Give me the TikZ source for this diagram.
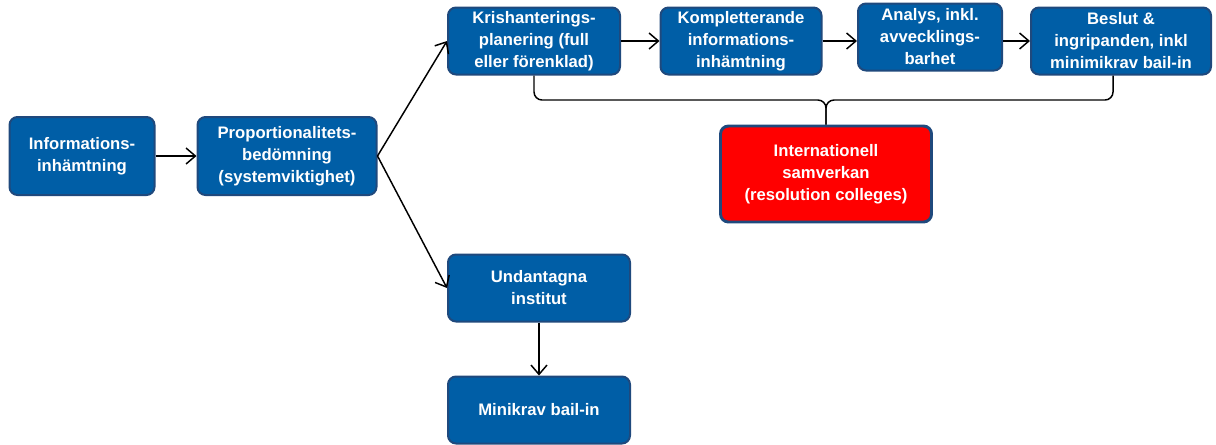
\documentclass[tikz,border=0pt]{standalone}
\usepackage{fontspec}
\setmainfont{Liberation Sans}
\usetikzlibrary{arrows.meta}
\definecolor{boxblue}{RGB}{0,94,166}
\definecolor{edgeblue}{RGB}{31,73,125}
\definecolor{boxred}{RGB}{255,0,0}
\tikzset{
  stage/.style={draw=edgeblue,fill=boxblue,line width=1.5pt,rounded corners=6pt,
    text=white,align=center,inner sep=0pt,
    font=\bfseries\fontsize{12.5}{16.5}\selectfont},
  sz/.style 2 args={minimum width=#1*0.75pt,minimum height=#2*0.75pt},
  flow/.style={line width=1.1pt,-{Straight Barb[length=7pt,width=12pt,line width=1.1pt]}}
}
\begin{document}
\begin{tikzpicture}[x=0.75pt,y=-0.75pt]
\useasboundingbox (0,0) rectangle (1216,444);
\node[stage,sz={145}{78}] (info) at (82,156) {Informations-\\inhämtning};
\node[stage,sz={179}{78}] (prop) at (287,156) {Proportionalitets-\\bedömning\\(systemviktighet)};
\node[stage,sz={172}{67}] (kris) at (534,41) {Krishanterings-\\planering (full\\eller förenklad)};
\node[stage,sz={161}{67}] (komp) at (741,41) {Kompletterande\\informations-\\inhämtning};
\node[stage,sz={144}{67}] (anal) at (930,37) {Analys, inkl.\\avvecklings-\\barhet};
\node[stage,sz={180}{67}] (besl) at (1121,41) {Beslut \&\\ingripanden, inkl\\minimikrav bail-in};
\node[stage,sz={211}{96},fill=boxred,line width=2.2pt] (intl) at (826,174) {Internationell\\samverkan\\(resolution colleges)};
\node[stage,sz={182}{67}] (undt) at (539,288) {Undantagna\\institut};
\node[stage,sz={182}{67}] (mini) at (539,410) {Minikrav bail-in};
% arrows
\draw[flow] (info) -- (prop);
\draw[flow] (prop.east) -- (kris.west);
\draw[flow] (prop.east) -- (undt.west);
\draw[flow] (kris) -- (komp);
\draw[flow] (komp) -- (anal.west |- komp);
\draw[flow] (anal.east |- besl) -- (besl);
\draw[flow] (undt) -- (mini);
% brace to the colleges
\coordinate (brace) at (826,100);
\draw[line width=1.1pt,rounded corners=6pt] (kris.south) |- (brace) -- (intl.north);
\draw[line width=1.1pt,rounded corners=6pt] ([xshift=-6pt]besl.south) |- (brace) -- (intl.north);
\end{tikzpicture}
\end{document}
